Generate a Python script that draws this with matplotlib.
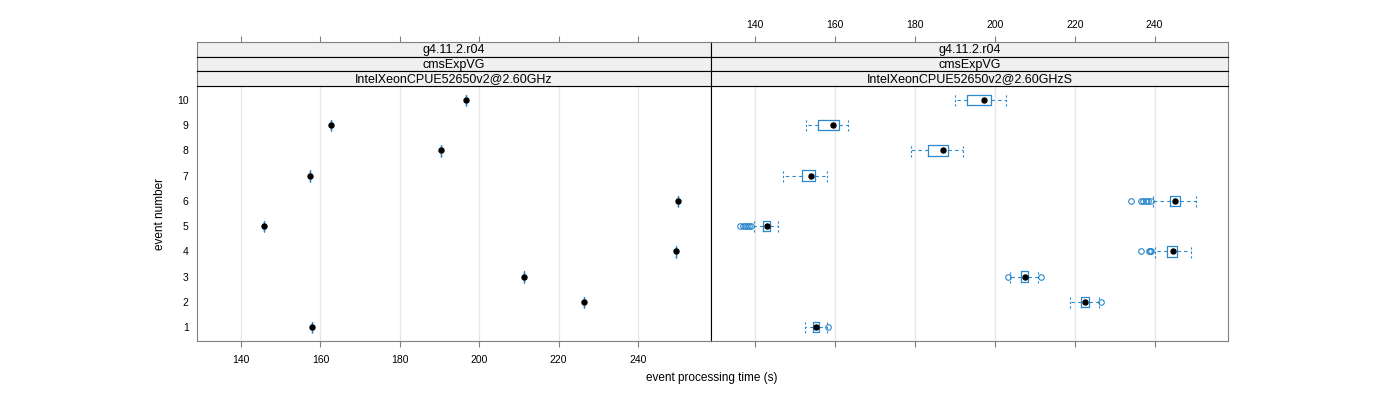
import numpy as np
import matplotlib
matplotlib.use("Agg")
import matplotlib.pyplot as plt

plt.rcParams['font.family'] = ['Liberation Sans', 'DejaVu Sans']

events = [1, 2, 3, 4, 5, 6, 7, 8, 9, 10]
strip_rows = ["g4.11.2.r04", "cmsExpVG"]
cpu_left = "IntelXeonCPUE52650v2@2.60GHz"
cpu_right = "IntelXeonCPUE52650v2@2.60GHzS"

# left panel: one run per event
left_vals = [157.9, 226.4, 211.3, 249.6, 145.8, 250.1, 157.4, 190.4, 162.7, 196.7]

# right panel: box stats per event (whisker lo, q1, median, q3, whisker hi)
r_lo  = [152.5, 218.8, 203.9, 240.1, 139.7, 239.6, 147.0, 178.9, 152.8, 190.0]
r_q1  = [154.5, 221.6, 206.5, 243.2, 142.0, 243.8, 151.8, 183.3, 155.6, 193.1]
r_med = [155.2, 222.7, 207.5, 244.6, 142.9, 245.0, 154.0, 186.9, 159.4, 197.3]
r_q3  = [155.9, 223.6, 208.3, 245.6, 143.6, 246.5, 155.0, 188.2, 160.9, 199.0]
r_hi  = [157.9, 226.1, 210.9, 249.2, 145.8, 250.4, 157.9, 192.0, 163.3, 202.7]
r_out = [[158.3], [226.7], [203.3, 211.5], [236.7, 238.5, 238.9, 239.2],
         [136.1, 136.8, 137.3, 137.8, 138.3, 138.8],
         [234.2, 236.6, 237.2, 237.8, 238.4, 239.0], [], [], [], []]

xticks = [140, 160, 180, 200, 220, 240]
xlim = (128.9, 258.4)
ylim = (0.45, 10.55)

blue = '#2a88cc'
gray = '#808080'

W, H = 1400, 400
fig = plt.figure(figsize=(14, 4), dpi=100)

def fx(px):
    return px / W

def fy(py):
    return 1 - py / H

panel_x = [(197, 711), (711, 1228)]
ptop, pbot = 86, 341
strip_edges = [42, 56.7, 71.3, 86]

left_stats = [dict(whislo=v, q1=v, med=v, q3=v, whishi=v, fliers=[]) for v in left_vals]
right_stats = [dict(whislo=a, q1=b, med=c, q3=d, whishi=e, fliers=f)
               for a, b, c, d, e, f in zip(r_lo, r_q1, r_med, r_q3, r_hi, r_out)]

for i, (x0, x1) in enumerate(panel_x):
    ax = fig.add_axes([fx(x0), fy(pbot), fx(x1 - x0), fy(ptop) - fy(pbot)])
    stats = left_stats if i == 0 else right_stats
    ax.bxp(stats, positions=events, orientation='horizontal', widths=0.42,
           capwidths=0.5, showfliers=True,
           boxprops=dict(color=blue, lw=0.9),
           whiskerprops=dict(color=blue, lw=0.8, ls=(0, (3, 3))),
           capprops=dict(color=blue, lw=0.8, ls=(0, (2, 2))),
           medianprops=dict(lw=0),
           flierprops=dict(marker='o', mfc='none', mec=blue, ms=4, mew=0.8))
    meds = [s['med'] for s in stats]
    ax.plot(meds, events, 'o', color='black', ms=3.6, zorder=5)
    ax.set_xlim(*xlim)
    ax.set_ylim(*ylim)
    ax.set_xticks(xticks)
    ax.grid(axis='x', color='#e6e6e6', lw=0.9, zorder=0)
    ax.set_axisbelow(True)
    ax.tick_params(axis='x', length=4, color=gray, labelsize=7.5, pad=6,
                   labelbottom=(i == 0))
    ax.set_yticks(events)
    if i == 0:
        ax.set_yticklabels([str(e) for e in events])
        ax.tick_params(axis='y', length=0, labelsize=7.5, pad=6)
        ax.set_ylabel("event number", fontsize=8.5, labelpad=8)
    else:
        ax.tick_params(axis='y', length=0, labelleft=False)
    for s in ax.spines.values():
        s.set_color(gray)
    if i == 0:
        ax.spines['right'].set_color('black')
    else:
        ax.spines['left'].set_color('black')

    labels = strip_rows + [cpu_left if i == 0 else cpu_right]
    for k in range(3):
        y_top, y_bot = strip_edges[k], strip_edges[k + 1]
        sax = fig.add_axes([fx(x0), fy(y_bot), fx(x1 - x0), fy(y_top) - fy(y_bot)])
        sax.set_facecolor('#f0f0f0')
        sax.set_xlim(*xlim)
        sax.set_ylim(0, 1)
        sax.set_yticks([])
        sax.text(0.5, 0.45, labels[k], transform=sax.transAxes, ha='center',
                 va='center', fontsize=9)
        for s in sax.spines.values():
            s.set_color('black')
            s.set_linewidth(0.8)
        sax.spines['left' if i == 0 else 'right'].set_color(gray)
        if k == 0:
            sax.spines['top'].set_color(gray)
            sax.set_xticks(xticks)
            sax.tick_params(axis='x', bottom=False, labelbottom=False, top=True,
                            labeltop=(i == 1), length=4, color=gray,
                            labelsize=7.5, pad=5)
        else:
            sax.set_xticks([])

fig.text(fx(712), fy(378), "event processing time (s)", ha='center', va='center', fontsize=8.5)

fig.savefig("out.png", dpi=100)
